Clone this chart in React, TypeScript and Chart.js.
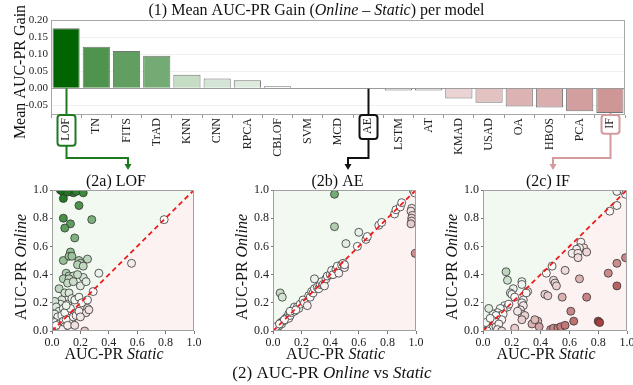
import React, { useEffect, useRef } from "react";
import { Chart, registerables } from "chart.js";
Chart.register(...registerables);

// ---------------- data ----------------
const models = ["LOF", "TN", "FITS", "TrAD", "KNN", "CNN", "RPCA", "CBLOF", "SVM", "MCD", "AE", "LSTM", "AT", "KMAD", "USAD", "OA", "HBOS", "PCA", "IF"];
const gains = [0.1756, 0.122, 0.109, 0.0955, 0.040, 0.029, 0.0234, 0.006, 0.001, 0.0008, -0.001, -0.006, -0.006, -0.030, -0.042, -0.053, -0.056, -0.067, -0.072];
const highlighted = ["LOF", "AE", "IF"];
const panelTitles = ["(2a) LOF", "(2b) AE", "(2c) IF"];
const scatterTicks = [0, 0.2, 0.4, 0.6, 0.8, 1.0];

const lofStatic = [0.06, 0.08, 0.10, 0.12, 0.13, 0.15, 0.17, 0.22, 0.07, 0.11, 0.08, 0.19, 0.08, 0.13, 0.09, 0.28, 0.16, 0.08, 0.13, 0.12, 0.14, 0.19, 0.20, 0.18, 0.22, 0.25, 0.33, 0.56, 0.79, 0.10, 0.12, 0.15, 0.08, 0.12, 0.11, 0.15, 0.20, 0.22, 0.24, 0.18, 0.05, 0.09, 0.12, 0.07, 0.11, 0.14, 0.06, 0.02, 0.16, 0.19, 0.21, 0.25, 0.29, 0.25, 0.24, 0.26, 0.18, 0.14, 0.12, 0.14, 0.12, 0.23, 0.01, 0.03, 0.05, 0.08, 0.02, 0.04, 0.07, 0.09, 0.00, 0.02, 0.05, 0.08, 0.10, 0.01, 0.03, 0.06, 0.09, 0.02, 0.04, 0.07, 0.11, 0.15, 0.17, 0.19, 0.00, 0.00, 0.03, 0.13, 0.10, 0.16, 0.20];
const lofOnline = [1.00, 0.99, 1.00, 0.99, 1.00, 0.98, 0.99, 0.98, 0.995, 0.985, 0.94, 0.89, 0.80, 0.76, 0.73, 0.79, 0.66, 0.50, 0.56, 0.53, 0.53, 0.50, 0.48, 0.47, 0.46, 0.51, 0.41, 0.48, 0.79, 0.41, 0.39, 0.39, 0.37, 0.37, 0.34, 0.35, 0.32, 0.38, 0.35, 0.40, 0.30, 0.27, 0.27, 0.22, 0.19, 0.23, 0.19, 0.21, 0.22, 0.24, 0.20, 0.22, 0.28, 0.16, 0.13, 0.15, 0.13, 0.13, 0.09, 0.06, 0.06, 0.00, 0.16, 0.17, 0.14, 0.16, 0.12, 0.10, 0.11, 0.13, 0.07, 0.06, 0.05, 0.07, 0.08, 0.02, 0.01, 0.02, 0.03, 0.00, 0.00, 0.01, 0.04, 0.10, 0.11, 0.14, 0.03, 0.00, 0.04, 0.16, 0.18, 0.04, 0.10];

const aeStatic = [0.00, 0.01, 0.015, 0.02, 0.03, 0.04, 0.05, 0.055, 0.06, 0.07, 0.08, 0.09, 0.10, 0.11, 0.11, 0.12, 0.13, 0.14, 0.15, 0.15, 0.17, 0.18, 0.19, 0.21, 0.22, 0.24, 0.25, 0.26, 0.27, 0.28, 0.29, 0.31, 0.32, 0.33, 0.34, 0.35, 0.36, 0.37, 0.38, 0.40, 0.41, 0.42, 0.44, 0.45, 0.46, 0.48, 0.49, 0.50, 0.50, 0.59, 0.65, 0.66, 0.74, 0.76, 0.85, 0.86, 0.89, 0.90, 0.98, 1.00, 0.99, 0.12, 0.16, 0.02, 0.045, 0.08, 0.43, 0.43, 0.60, 0.51, 0.05, 0.065, 0.29, 0.97, 0.965, 0.975, 0.97, 0.97, 0.965, 0.995];
const aeOnline = [0.00, 0.01, 0.02, 0.015, 0.03, 0.035, 0.05, 0.06, 0.05, 0.07, 0.075, 0.09, 0.10, 0.12, 0.09, 0.11, 0.13, 0.15, 0.14, 0.17, 0.17, 0.16, 0.19, 0.22, 0.20, 0.18, 0.25, 0.24, 0.28, 0.27, 0.30, 0.31, 0.30, 0.33, 0.35, 0.33, 0.32, 0.37, 0.39, 0.40, 0.43, 0.40, 0.44, 0.46, 0.41, 0.47, 0.48, 0.45, 0.47, 0.60, 0.65, 0.67, 0.75, 0.77, 0.83, 0.86, 0.88, 0.91, 1.00, 0.99, 0.98, 0.14, 0.15, 0.03, 0.05, 0.08, 0.97, 0.74, 0.70, 0.62, 0.27, 0.24, 0.37, 0.87, 0.85, 0.82, 0.80, 0.78, 0.76, 0.55];

const ifStatic = [0.93, 0.98, 0.99, 0.93, 0.88, 0.68, 0.70, 0.67, 0.65, 0.62, 0.66, 0.72, 0.66, 0.57, 0.44, 0.48, 0.67, 0.49, 0.50, 0.51, 0.43, 0.45, 0.55, 0.72, 0.99, 0.93, 0.87, 0.93, 0.61, 0.63, 0.80, 0.81, 0.38, 0.39, 0.34, 0.47, 0.49, 0.52, 0.54, 0.57, 0.22, 0.16, 0.17, 0.27, 0.27, 0.21, 0.19, 0.20, 0.22, 0.31, 0.30, 0.28, 0.27, 0.28, 0.26, 0.27, 0.29, 0.24, 0.15, 0.17, 0.18, 0.14, 0.12, 0.10, 0.12, 0.14, 0.10, 0.13, 0.07, 0.09, 0.04, 0.05, 0.03, 0.06, 0.08, 0.02, 0.01, 0.04, 0.07, 0.09, 0.11, 0.02, 0.05, 0.10, 0.13, 0.00, 0.03, 0.36, 0.27];
const ifOnline = [0.99, 0.99, 0.97, 0.89, 0.85, 0.63, 0.59, 0.59, 0.58, 0.55, 0.55, 0.56, 0.52, 0.43, 0.41, 0.46, 0.37, 0.36, 0.34, 0.32, 0.26, 0.25, 0.24, 0.24, 0.52, 0.48, 0.41, 0.32, 0.14, 0.07, 0.07, 0.06, 0.07, 0.03, 0.05, 0.01, 0.02, 0.02, 0.03, 0.04, 0.02, 0.42, 0.36, 0.35, 0.33, 0.30, 0.27, 0.26, 0.24, 0.28, 0.27, 0.22, 0.20, 0.18, 0.15, 0.12, 0.11, 0.14, 0.18, 0.17, 0.19, 0.15, 0.16, 0.13, 0.11, 0.12, 0.09, 0.08, 0.12, 0.11, 0.16, 0.06, 0.05, 0.04, 0.07, 0.03, 0.01, 0.02, 0.02, 0.03, 0.05, 0.06, 0.09, 0.01, 0.00, 0.00, 0.00, 0.08, 0.08];

// ---------------- layout / style ----------------
const W = 700;
const H = 385;
const PAGE_W = 633;
const FONT = '"Liberation Serif", "Times New Roman", serif';
const BAR_AREA = { left: 51, right: 625, top: 20, bottom: 115 };
const PANELS = [
  { left: 52, right: 194 },
  { left: 273, right: 416 },
  { left: 483, right: 627 },
];
const PANEL_TOP = 190;
const PANEL_BOTTOM = 331;
const HL_STYLE = [
  { color: "#1f7a1f", arrowX: 128 },
  { color: "#111111", arrowX: 348 },
  { color: "#d49a9c", arrowX: 553 },
];

function gainColor(g: number, norm: number, alpha = 1) {
  const t = Math.min(1, Math.abs(g) / norm);
  const end = g >= 0 ? [0, 100, 0] : [139, 0, 0];
  const c = end.map((e) => Math.round(255 + (e - 255) * t));
  return `rgba(${c[0]},${c[1]},${c[2]},${alpha})`;
}

type Seg = [string, boolean];
function drawMixed(ctx: CanvasRenderingContext2D, segs: Seg[], cx: number, cy: number, size: number, rot = 0) {
  ctx.save();
  ctx.translate(cx, cy);
  if (rot) ctx.rotate(rot);
  let total = 0;
  const widths = segs.map(([t, it]) => {
    ctx.font = `${it ? "italic " : ""}${size}px ${FONT}`;
    const w = ctx.measureText(t).width;
    total += w;
    return w;
  });
  let x = -total / 2;
  ctx.textBaseline = "alphabetic";
  ctx.textAlign = "left";
  ctx.fillStyle = "#111";
  segs.forEach(([t, it], i) => {
    ctx.font = `${it ? "italic " : ""}${size}px ${FONT}`;
    ctx.fillText(t, x, 0);
    x += widths[i];
  });
  ctx.restore();
}

function roundRect(ctx: CanvasRenderingContext2D, x: number, y: number, w: number, h: number, r: number) {
  ctx.beginPath();
  ctx.moveTo(x + r, y);
  ctx.lineTo(x + w - r, y);
  ctx.quadraticCurveTo(x + w, y, x + w, y + r);
  ctx.lineTo(x + w, y + h - r);
  ctx.quadraticCurveTo(x + w, y + h, x + w - r, y + h);
  ctx.lineTo(x + r, y + h);
  ctx.quadraticCurveTo(x, y + h, x, y + h - r);
  ctx.lineTo(x, y + r);
  ctx.quadraticCurveTo(x, y, x + r, y);
  ctx.closePath();
}

const barDecor = {
  id: "barDecor",
  beforeDatasetsDraw(chart: any) {
    const { ctx, chartArea: a, scales } = chart;
    const y0 = Math.round(scales.y.getPixelForValue(0)) + 0.5;
    ctx.save();
    ctx.strokeStyle = "#9a9a9a";
    ctx.lineWidth = 1;
    ctx.beginPath();
    ctx.moveTo(a.left, y0);
    ctx.lineTo(a.right, y0);
    ctx.stroke();
    ctx.restore();
  },
  afterDraw(chart: any) {
    const { ctx, chartArea: a, scales } = chart;
    const xs = scales.x;
    const ys = scales.y;
    ctx.save();
    ctx.strokeStyle = "#a8a8a8";
    ctx.lineWidth = 1;
    ctx.strokeRect(a.left + 0.5, a.top + 0.5, a.right - a.left - 1, a.bottom - a.top - 1);
    ctx.restore();

    drawMixed(ctx, [["(1) Mean AUC-PR Gain (", false], ["Online", true], [" \u2013 ", false], ["Static", true], [") per model", false]], PAGE_W / 2, 15, 16);
    drawMixed(ctx, [["Mean AUC-PR Gain", false]], 25, 72, 16, -Math.PI / 2);
    drawMixed(ctx, [["(2) AUC-PR ", false], ["Online", true], [" vs ", false], ["Static", true]], 332, 378, 17);

    highlighted.forEach((name, k) => {
      const i = models.indexOf(name);
      const st = HL_STYLE[k];
      const px = Math.round(xs.getPixelForTick(i)) + 0.5;
      const startY = ys.getPixelForValue(Math.min(0, gains[i]));
      ctx.save();
      ctx.font = `12px ${FONT}`;
      const tw = ctx.measureText(name).width;
      const boxTop = a.bottom;
      const boxBottom = a.bottom + 3 + tw + 5;
      ctx.strokeStyle = st.color;
      ctx.fillStyle = st.color;
      ctx.lineWidth = 2;
      ctx.beginPath();
      ctx.moveTo(px, startY);
      ctx.lineTo(px, boxTop);
      ctx.stroke();
      roundRect(ctx, px - 9, boxTop, 18, boxBottom - boxTop, 3);
      ctx.stroke();
      const hy = 158;
      ctx.beginPath();
      ctx.moveTo(px, boxBottom);
      ctx.lineTo(px, hy);
      ctx.lineTo(st.arrowX, hy);
      ctx.lineTo(st.arrowX, 165);
      ctx.stroke();
      ctx.beginPath();
      ctx.moveTo(st.arrowX - 3.5, 164);
      ctx.lineTo(st.arrowX + 3.5, 164);
      ctx.lineTo(st.arrowX, 170);
      ctx.closePath();
      ctx.fill();
      ctx.restore();
    });
  },
};

const panelDecor = {
  id: "panelDecor",
  beforeDatasetsDraw(chart: any) {
    const { ctx, chartArea: a } = chart;
    ctx.save();
    ctx.fillStyle = "#f1f9f1";
    ctx.beginPath();
    ctx.moveTo(a.left, a.bottom);
    ctx.lineTo(a.left, a.top);
    ctx.lineTo(a.right, a.top);
    ctx.closePath();
    ctx.fill();
    ctx.fillStyle = "#fcf2f2";
    ctx.beginPath();
    ctx.moveTo(a.left, a.bottom);
    ctx.lineTo(a.right, a.bottom);
    ctx.lineTo(a.right, a.top);
    ctx.closePath();
    ctx.fill();
    ctx.restore();
  },
  afterDraw(chart: any, _args: any, opts: any) {
    const { ctx, chartArea: a } = chart;
    ctx.save();
    ctx.strokeStyle = "#a0a0a0";
    ctx.lineWidth = 1;
    ctx.strokeRect(a.left + 0.5, a.top + 0.5, a.right - a.left - 1, a.bottom - a.top - 1);
    ctx.restore();
    const cx = (a.left + a.right) / 2;
    drawMixed(ctx, [[opts.title, false]], cx - 7, 186, 16);
    drawMixed(ctx, [["AUC-PR ", false], ["Static", true]], cx - 9, 359, 16);
    drawMixed(ctx, [["AUC-PR ", false], ["Online", true]], a.left - 26, 267, 16, -Math.PI / 2);
  },
};

const canvasStyle: React.CSSProperties = { position: "absolute", left: 0, top: 0, width: W, height: H };

function BarPanel() {
  const ref = useRef<HTMLCanvasElement>(null);
  useEffect(() => {
    const maxAbs = Math.max(...gains.map(Math.abs));
    const chart = new Chart(ref.current as HTMLCanvasElement, {
      type: "bar",
      data: {
        labels: models,
        datasets: [
          {
            data: gains,
            backgroundColor: gains.map((g) => gainColor(g, maxAbs)),
            borderColor: "rgba(70,70,70,0.75)",
            borderWidth: 1,
            barPercentage: 0.9,
            categoryPercentage: 1,
          },
        ],
      },
      options: {
        responsive: false,
        animation: false,
        events: [],
        layout: { padding: { left: BAR_AREA.left - 51, right: W - BAR_AREA.right, top: BAR_AREA.top, bottom: H - BAR_AREA.bottom - 50 } },
        plugins: { legend: { display: false }, tooltip: { enabled: false } },
        scales: {
          x: {
            ticks: { font: { family: FONT, size: 12 }, color: "#222", minRotation: 90, maxRotation: 90, autoSkip: false, padding: 0 },
            grid: { drawOnChartArea: false, drawTicks: true, tickLength: 3, color: "#999" },
            border: { display: false },
            afterFit: (s: any) => { s.height = 50; },
          },
          y: {
            min: -0.078,
            max: 0.2,
            ticks: { stepSize: 0.05, includeBounds: false, callback: (v: any) => Number(v).toFixed(2), font: { family: FONT, size: 11 }, color: "#222", padding: 3 },
            grid: { drawTicks: false, color: "rgba(0,0,0,0.06)" },
            border: { display: false },
            afterFit: (s: any) => { s.width = 51; },
          },
        },
      },
      plugins: [barDecor],
    });
    return () => chart.destroy();
  }, []);
  return <canvas ref={ref} width={W} height={H} style={canvasStyle} />;
}

function ScatterPanel({ idx, xs, ys }: { idx: number; xs: number[]; ys: number[] }) {
  const ref = useRef<HTMLCanvasElement>(null);
  useEffect(() => {
    const p = PANELS[idx];
    const pts = xs.map((x, i) => ({ x, y: ys[i] }));
    const tickOpts = {
      font: { family: FONT, size: 12 },
      color: "#222",
      padding: 2,
      maxRotation: 0,
      autoSkip: false,
      callback: (v: any) => Number(v).toFixed(1),
    };
    const chart = new Chart(ref.current as HTMLCanvasElement, {
      type: "scatter",
      data: {
        datasets: [
          {
            type: "line",
            data: [{ x: 0, y: 0 }, { x: 1, y: 1 }],
            borderColor: "#ee1c1c",
            borderWidth: 1.8,
            borderDash: [5, 3.5],
            pointRadius: 0,
            order: 0,
          } as any,
          {
            data: pts,
            pointRadius: 4,
            pointBackgroundColor: pts.map((q) => gainColor(q.y - q.x, 1)),
            pointBorderColor: "#333",
            pointBorderWidth: 0.8,
            order: 1,
            clip: 0,
          } as any,
        ],
      },
      options: {
        responsive: false,
        animation: false,
        events: [],
        layout: { padding: { left: p.left - 40, right: W - p.right, top: PANEL_TOP, bottom: H - PANEL_BOTTOM - 25 } },
        plugins: { legend: { display: false }, tooltip: { enabled: false }, panelDecor: { title: panelTitles[idx] } } as any,
        scales: {
          x: {
            type: "linear",
            min: 0,
            max: 1,
            afterBuildTicks: (s: any) => { s.ticks = scatterTicks.map((v) => ({ value: v })); },
            ticks: tickOpts,
            grid: { drawOnChartArea: false, drawTicks: true, tickLength: 3, color: "#777" },
            border: { display: false },
            afterFit: (s: any) => { s.height = 25; },
          },
          y: {
            type: "linear",
            min: 0,
            max: 1,
            afterBuildTicks: (s: any) => { s.ticks = scatterTicks.map((v) => ({ value: v })); },
            ticks: tickOpts,
            grid: { drawOnChartArea: false, drawTicks: true, tickLength: 2, color: "#777" },
            border: { display: false },
            afterFit: (s: any) => { s.width = 40; },
          },
        },
      },
      plugins: [panelDecor],
    });
    return () => chart.destroy();
  }, []);
  return <canvas ref={ref} width={W} height={H} style={canvasStyle} />;
}

export default function App() {
  return (
    <div style={{ position: "absolute", left: 0, top: 0, width: PAGE_W, height: H, overflow: "hidden", background: "#fff" }}>
      <BarPanel />
      <ScatterPanel idx={0} xs={lofStatic} ys={lofOnline} />
      <ScatterPanel idx={1} xs={aeStatic} ys={aeOnline} />
      <ScatterPanel idx={2} xs={ifStatic} ys={ifOnline} />
    </div>
  );
}
